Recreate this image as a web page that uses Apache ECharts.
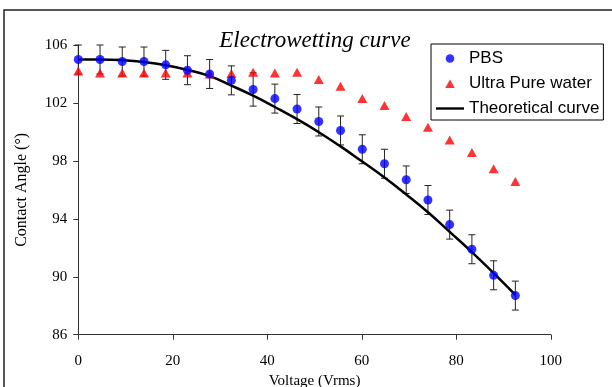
<!DOCTYPE html>
<html>
<head>
<meta charset="utf-8">
<script src="https://cdn.jsdelivr.net/npm/echarts@6/dist/echarts.min.js"></script>
<style>
  html, body { margin: 0; padding: 0; background: #fff; }
  #chart { width: 612px; height: 387px; }
</style>
</head>
<body>
<div id="chart"></div>
<script>
// voltage (Vrms) of each measurement
const voltage = [0, 4.6, 9.3, 13.9, 18.5, 23.1, 27.8, 32.4, 37.0, 41.6, 46.3,
  50.9, 55.5, 60.1, 64.8, 69.4, 74.0, 78.6, 83.3, 87.9, 92.5];
// PBS contact angle and its error
const pbsAngle = [105.0, 105.0, 104.86, 104.86, 104.63, 104.26, 104.0, 103.56, 102.93, 102.3, 101.58,
  100.72, 100.1, 98.8, 97.8, 96.7, 95.3, 93.6, 91.9, 90.1, 88.7];
const pbsErr = [1.0, 1.0, 1.0, 1.0, 1.0, 1.0, 1.0, 1.0, 1.15, 1.0, 1.0,
  1.0, 1.0, 1.0, 1.0, 0.95, 1.0, 1.0, 1.0, 1.0, 1.0];
// ultra pure water contact angle
const waterAngle = [104.2, 104.07, 104.07, 104.07, 104.07, 104.07, 104.0, 104.03, 104.12, 104.07, 104.12,
  103.61, 103.15, 102.3, 101.83, 101.07, 100.33, 99.45, 98.57, 97.46, 96.58];
// theoretical curve read along the same voltages
const theoryAngle = [105.0, 105.0, 104.95, 104.82, 104.6, 104.28, 103.85, 103.2, 102.5, 101.72, 100.88,
  99.98, 99.0, 97.95, 96.85, 95.68, 94.45, 93.1, 91.7, 90.25, 88.75];

const serif = "'Liberation Serif', 'DejaVu Serif', serif";
const sans = "'Liberation Sans', Arial, sans-serif";

const chart = echarts.init(document.getElementById('chart'));

const pbsData = voltage.map((v, i) => [v, pbsAngle[i]]);
const waterData = voltage.map((v, i) => [v, waterAngle[i]]);
const theoryData = voltage.map((v, i) => [v, theoryAngle[i]]);
const errData = voltage.map((v, i) => [v, pbsAngle[i] - pbsErr[i], pbsAngle[i] + pbsErr[i]]);

chart.setOption({
  animation: false,
  backgroundColor: '#fff',
  title: {
    text: 'Electrowetting curve',
    left: 310,
    textAlign: 'center',
    top: 24,
    textStyle: { fontFamily: serif, fontStyle: 'italic', fontWeight: 'normal', fontSize: 23, color: '#000' }
  },
  graphic: [
    {
      type: 'rect',
      shape: { x: 4, y: 10, width: 700, height: 500 },
      style: { fill: 'none', stroke: '#222', lineWidth: 1.5 },
      silent: true
    }
  ],
  legend: {
    left: 431,
    top: 44,
    orient: 'vertical',
    padding: [6, 4, 3, 5],
    itemGap: 8,
    itemWidth: 28,
    itemHeight: 10,
    borderColor: '#000',
    borderWidth: 1,
    borderRadius: 0,
    textStyle: { fontFamily: sans, fontSize: 17, color: '#000' },
    data: [
      { name: 'PBS', icon: 'path://M0,0 M28,10 M18.3,5 A4.3,4.3 0 1 1 9.7,5 A4.3,4.3 0 1 1 18.3,5 Z' },
      { name: 'Ultra Pure water', icon: 'path://M0,0 M28,10 M14,1 L18.8,9.5 L9.2,9.5 Z' },
      { name: 'Theoretical curve', icon: 'path://M0,0 M28,10 M0,3.8 L28,3.8 L28,6.2 L0,6.2 Z' }
    ]
  },
  grid: { left: 78.3, right: 61.2, top: 45, bottom: 52.3, outerBoundsMode: 'none' },
  xAxis: {
    type: 'value',
    min: 0,
    max: 100,
    interval: 20,
    name: 'Voltage (Vrms)',
    nameLocation: 'middle',
    nameGap: 37,
    nameTextStyle: { fontFamily: serif, fontSize: 15, color: '#000' },
    splitLine: { show: false },
    axisLine: { lineStyle: { color: '#333', width: 1 } },
    axisTick: { inside: false, length: 5, lineStyle: { color: '#333' } },
    axisLabel: { fontFamily: serif, fontSize: 15, color: '#000', margin: 19 }
  },
  yAxis: {
    type: 'value',
    min: 86,
    max: 106,
    interval: 4,
    name: 'Contact Angle (°)',
    nameLocation: 'middle',
    nameGap: 49,
    nameTextStyle: { fontFamily: serif, fontSize: 16, color: '#000' },
    splitLine: { show: false },
    axisLine: { show: true, lineStyle: { color: '#333', width: 1 } },
    axisTick: { show: true, inside: false, length: 5, lineStyle: { color: '#333' } },
    axisLabel: { fontFamily: serif, fontSize: 15, color: '#000', margin: 11 }
  },
  series: [
    {
      name: 'error',
      type: 'custom',
      silent: true,
      z: 1,
      data: errData,
      renderItem: function (params, api) {
        const x = api.value(0);
        const lo = api.coord([x, api.value(1)]);
        const hi = api.coord([x, api.value(2)]);
        const w = 3.5;
        const st = { stroke: '#222', lineWidth: 1 };
        return {
          type: 'group',
          children: [
            { type: 'line', shape: { x1: lo[0], y1: lo[1], x2: hi[0], y2: hi[1] }, style: st },
            { type: 'line', shape: { x1: lo[0] - w, y1: lo[1], x2: lo[0] + w, y2: lo[1] }, style: st },
            { type: 'line', shape: { x1: hi[0] - w, y1: hi[1], x2: hi[0] + w, y2: hi[1] }, style: st }
          ]
        };
      }
    },
    {
      name: 'Theoretical curve',
      type: 'line',
      z: 2,
      data: theoryData,
      smooth: true,
      symbol: 'none',
      lineStyle: { color: '#000', width: 2.5 },
      itemStyle: { color: '#000' }
    },
    {
      name: 'Ultra Pure water',
      type: 'scatter',
      z: 3,
      data: waterData,
      symbol: 'triangle',
      symbolSize: [10, 9],
      itemStyle: { color: '#ff0000' }
    },
    {
      name: 'PBS',
      type: 'scatter',
      z: 4,
      data: pbsData,
      symbol: 'circle',
      symbolSize: 9,
      itemStyle: { color: '#0000ff' }
    }
  ]
});
</script>
</body>
</html>
